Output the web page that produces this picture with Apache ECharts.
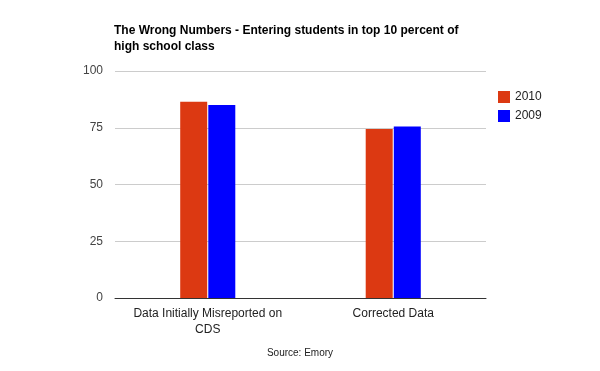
<!DOCTYPE html>
<html><head><meta charset="utf-8">
<script src="https://cdn.jsdelivr.net/npm/echarts@6/dist/echarts.min.js"></script>
<style>html,body{margin:0;padding:0;background:#fff}#c{width:600px;height:371px}</style>
</head><body><div id="c"></div>
<script>
var categories = ['Data Initially Misreported on\nCDS', 'Corrected Data'];
var series2010 = [86.5, 74.5];
var series2009 = [85, 75.5];
var yTicks = [0, 25, 50, 75, 100];

var chart = echarts.init(document.getElementById('c'), null, {renderer: 'canvas'});
chart.setOption({
  animation: false,
  backgroundColor: '#fff',
  title: [{
    text: 'The Wrong Numbers - Entering students in top 10 percent of\nhigh school class',
    left: 114, top: 23, padding: 0,
    textStyle: {fontFamily: 'Arial, Liberation Sans', fontSize: 12, fontWeight: 'bold', color: '#000', lineHeight: 16}
  }, {
    text: 'Source: Emory',
    left: 'center', top: 348, padding: 0,
    textStyle: {fontFamily: 'Arial, Liberation Sans', fontSize: 10, fontWeight: 'normal', color: '#222'}
  }],
  legend: {
    orient: 'vertical', left: 498, top: 91, padding: 0,
    itemWidth: 12, itemHeight: 12, itemGap: 7, icon: 'rect',
    textStyle: {fontFamily: 'Arial, Liberation Sans', fontSize: 12, color: '#222', padding: [0,0,0,0]}
  },
  grid: {left: 115, right: 114, top: 71, bottom: 73, containLabel: false},
  xAxis: {
    type: 'category', data: categories,
    axisLine: {lineStyle: {color: '#333', width: 1}},
    axisTick: {show: false},
    axisLabel: {interval: 0, fontFamily: 'Arial, Liberation Sans', fontSize: 12, color: '#222', margin: 8, lineHeight: 16}
  },
  yAxis: {
    type: 'value', min: 0, max: 100, interval: 25,
    axisLine: {show: false}, axisTick: {show: false},
    splitLine: {lineStyle: {color: '#cccccc'}},
    axisLabel: {fontFamily: 'Arial, Liberation Sans', fontSize: 12, color: '#444', margin: 12, padding: [4, 0, 0, 0]}
  },
  series: [
    {name: '2010', type: 'bar', data: series2010, barWidth: 27, barGap: '4%', itemStyle: {color: '#dc3912'}},
    {name: '2009', type: 'bar', data: series2009, barWidth: 27, barGap: '4%', itemStyle: {color: '#0000ff'}}
  ]
});
</script></body></html>
